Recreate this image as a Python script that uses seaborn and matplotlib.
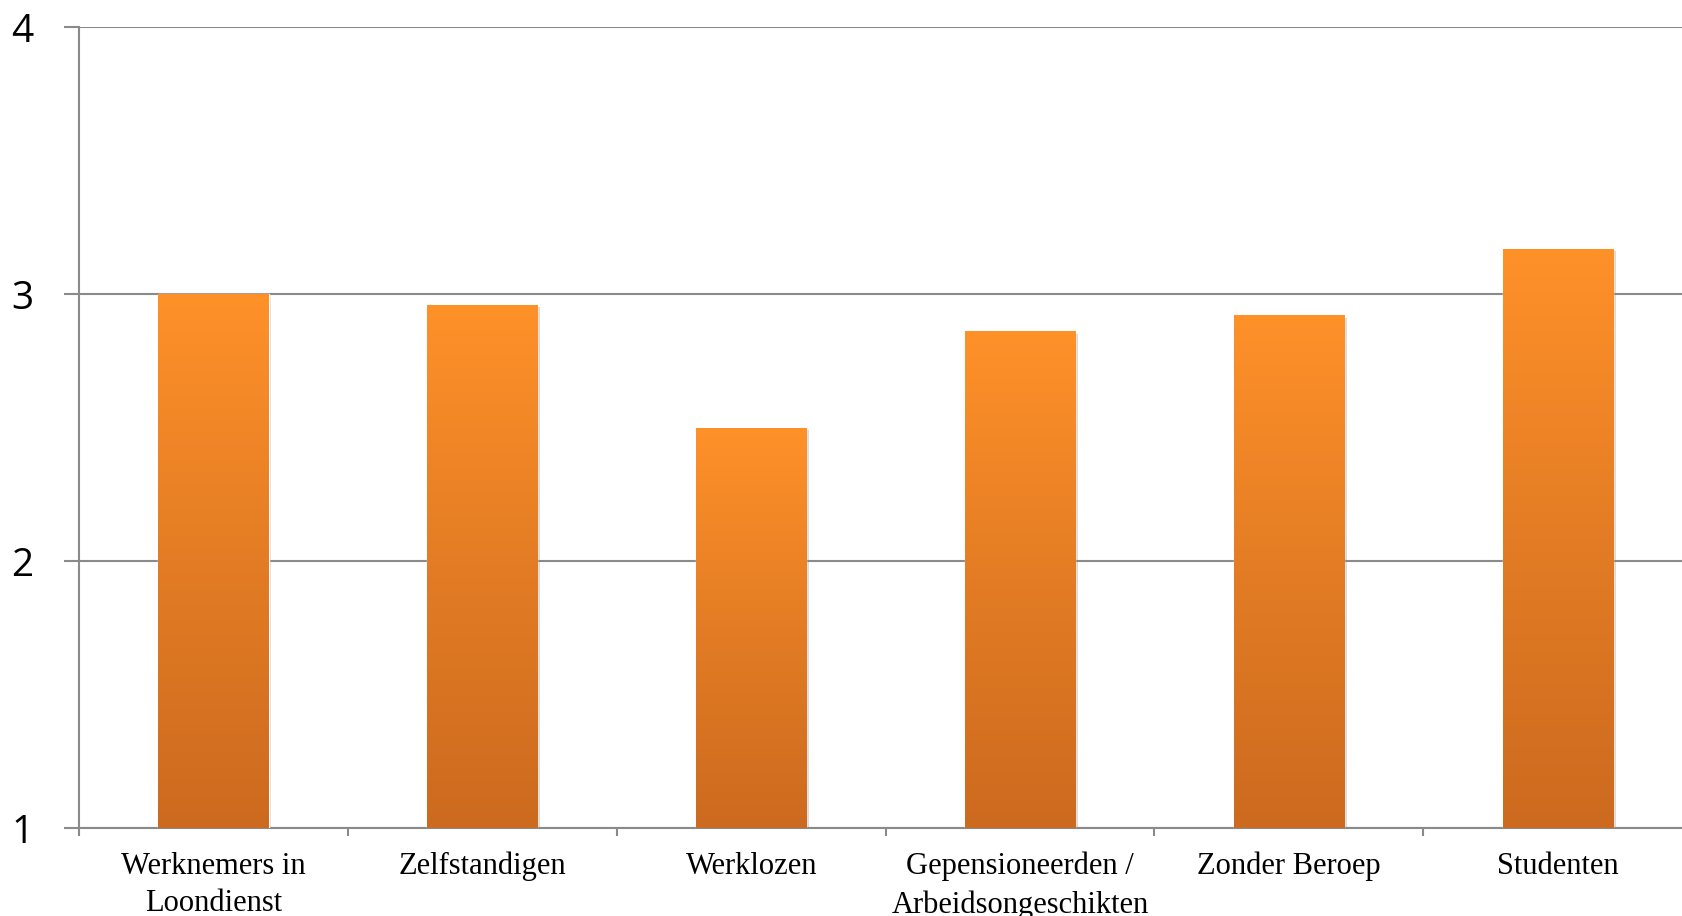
# Bar chart: average score per occupational group
import numpy as np
import pandas as pd
import seaborn as sns
import matplotlib.pyplot as plt
import matplotlib.patheffects as pe
from matplotlib.colors import LinearSegmentedColormap

groups = ['Werknemers in\nLoondienst', 'Zelfstandigen', 'Werklozen',
          'Gepensioneerden /\nArbeidsongeschikten', 'Zonder Beroep', 'Studenten']
scores = [3.00, 2.96, 2.50, 2.86, 2.92, 3.17]
y_ticks = [1, 2, 3, 4]

df = pd.DataFrame({'Groep': groups, 'Score': scores})

sns.set_style('white')
fig = plt.figure(figsize=(16.82, 9.16), dpi=100)
# axes runs a little past the right edge of the figure, like the original
ax = fig.add_axes([0.047, 0.096, 0.959, 0.8745])

sns.barplot(data=df, x='Groep', y='Score', color='#F68B26', width=0.41,
            ax=ax, zorder=3)

# gradient fill + soft shadow on each bar
grad = LinearSegmentedColormap.from_list('og', ['#CC6A1F', '#E37C24', '#FF9129'])
for p in ax.patches:
    x0, w, h = p.get_x(), p.get_width(), p.get_height()
    p.set_path_effects([pe.SimplePatchShadow(offset=(2, -2), shadow_rgbFace='#888888', alpha=0.3),
                        pe.Normal()])
    img = ax.imshow(np.linspace(0, 1, 256).reshape(-1, 1), cmap=grad, origin='lower',
                    extent=[x0, x0 + w, 1, h], aspect='auto', zorder=4)
    img.set_clip_path(p)

ax.set_xlim(-0.5, len(groups) - 0.5)
ax.set_ylim(1, 4)
ax.set_yticks(y_ticks)
ax.yaxis.grid(True, color='#8A8A8A', linewidth=1.5, zorder=0)
ax.set_axisbelow(True)

for s in ['top', 'right']:
    ax.spines[s].set_visible(False)
for s in ['left', 'bottom']:
    ax.spines[s].set_color('#8A8A8A')
    ax.spines[s].set_linewidth(1.5)

ax.tick_params(axis='y', length=11, width=1.5, color='#8A8A8A', pad=22,
               labelsize=28, labelcolor='black', left=True)
for lab in ax.get_yticklabels():
    lab.set_fontfamily(['Open Sans', 'DejaVu Sans'])

ax.set_xticks(np.arange(-0.5, len(groups)), minor=True)
ax.tick_params(axis='x', which='major', length=0, pad=17, labelsize=22, labelcolor='black')
ax.tick_params(axis='x', which='minor', length=6, width=1.5, color='#8A8A8A', bottom=True)
for lab in ax.get_xticklabels():
    lab.set_fontfamily(['Liberation Serif', 'DejaVu Serif'])
    lab.set_linespacing(1.4)
    lab.set_verticalalignment('top')

ax.set_xlabel('')
ax.set_ylabel('')

fig.savefig('out.png', dpi=100)
